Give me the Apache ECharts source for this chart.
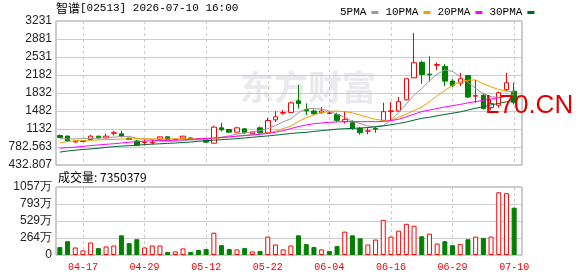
<!DOCTYPE html>
<html>
<head>
<meta charset="utf-8">
<title>智谱 02513 K线</title>
<script src="https://cdn.jsdelivr.net/npm/echarts@6/dist/echarts.min.js"></script>
<style>
html, body { margin: 0; padding: 0; background: #fff; }
#main { width: 578px; height: 276px; }
</style>
</head>
<body>
<div id="main"></div>
<script>
// trading days shown on the chart
const dates = [
  '04-14','04-15','04-16','04-17','04-20','04-21','04-22','04-23','04-24','04-27','04-28','04-29','04-30',
  '05-04','05-05','05-06','05-07','05-08','05-11','05-12','05-13','05-14','05-15','05-18','05-19','05-20','05-21','05-22',
  '05-26','05-27','05-28','05-29','06-01','06-02','06-03','06-04','06-05','06-08','06-09','06-10','06-11','06-12',
  '06-15','06-16','06-17','06-18','06-22','06-23','06-24','06-25','06-26','06-29','06-30',
  '07-02','07-03','07-06','07-07','07-08','07-09','07-10'
];
const labelIdx = [3, 11, 19, 27, 35, 43, 51, 59];

const kOpen = [1005,995,880,888,928,993,960,1050,1040,955, 900,870,862,935,980,925,955,958,945,922,
  857,1155,1122,1071,1136,1040,1155,1058,1310,1440, 1455,1680,1510,1482,1450,1435,1417,1275,1255,1145,
  1090,1145,1300,1475,1482,1700,2127,2428,2200,2370, 2345,2063,2024,2172,1770,1790,1549,1594,1902,1867];
const kClose = [966,900,895,895,993,960,993,1060,993,927, 820,876,872,980,930,932,993,950,938,877,
  1169,1116,1071,1155,1058,1075,1058,1298,1370,1452, 1640,1625,1485,1430,1482,1445,1300,1320,1145,1060,
  1095,1130,1469,1485,1663,2110,2420,2191,2185,2385, 2063,1979,2108,1754,1780,1530,1626,1838,2031,1650];
const kLow = [955,880,870,880,920,935,955,1005,966,920, 810,810,830,925,925,915,950,945,930,870,
  850,1083,1060,1065,1030,1030,1020,1050,1270,1410, 1450,1530,1400,1398,1430,1420,1270,1242,1115,1022,
  1028,1058,1290,1300,1470,1690,2127,2011,2056,2281, 1966,1947,1966,1735,1640,1510,1498,1549,1870,1610];
const kHigh = [1025,1005,905,900,1019,1000,1044,1097,1097,960, 920,927,927,990,985,940,1000,965,955,930,
  1194,1251,1130,1175,1150,1080,1180,1350,1480,1500, 1663,1990,1630,1514,1560,1465,1450,1482,1300,1171,
  1158,1190,1644,1657,1754,2120,3000,2461,2544,2428, 2397,2108,2223,2172,2090,1820,1709,1863,2223,2030];

const ma5 = [941,941,941,945,950,955,965,975,985,990, 950,940,925,905,895,893,905,920,922,925,
  950,975,1000,1035,1060,1075,1100,1140,1200,1270, 1330,1450,1525,1530,1520,1480,1420,1360,1280,1240,
  1190,1180,1200,1300,1450,1620,1790,1920,2070,2200, 2280,2250,2150,2040,1920,1820,1760,1745,1770,1810];
const ma10 = [863,890,905,908,912,920,928,930,935,940, 941,941,941,941,941,941,941,942,943,945,
  950,962,975,990,1005,1020,1035,1050,1090,1140, 1190,1280,1350,1410,1450,1475,1480,1470,1445,1405,
  1360,1320,1300,1300,1360,1420,1490,1560,1660,1780, 1880,1980,2050,2080,2085,2010,1950,1900,1870,1850];
const ma20 = [760,770,780,795,811,822,835,846,860,875, 887,896,902,906,910,916,922,930,940,950,
  958,968,980,994,1005,1018,1030,1045,1070,1100, 1140,1180,1210,1235,1250,1262,1270,1275,1275,1275,
  1275,1275,1280,1295,1320,1370,1420,1470,1500,1530, 1560,1585,1610,1640,1665,1690,1715,1740,1765,1790];
const ma30 = [683,705,720,735,745,757,775,790,800,808, 815,830,838,845,853,860,870,880,893,905,
  915,925,935,945,958,972,985,998,1012,1028, 1045,1058,1068,1085,1100,1115,1130,1138,1145,1152,
  1160,1175,1192,1215,1240,1268,1305,1340,1360,1390, 1415,1440,1465,1500,1535,1565,1600,1630,1660,1690];

const volume = [1230000,2140000,1170000,720000,1940000,1070000,1330000,1480000,3060000,1840000,
  2450000,1170000,1480000,1480000,460000,560000,1020000,460000,770000,920000,
  3470000,1530000,920000,870000,1070000,560000,610000,2860000,1630000,870000,
  1480000,3060000,1690000,1230000,870000,610000,1380000,3630000,3060000,2600000,
  1630000,2400000,5460000,2860000,3780000,4850000,4550000,2910000,3320000,1790000,
  2140000,1530000,1690000,2450000,2860000,2660000,2860000,9750000,9600000,7350379];
const volDir = [-1,-1,1,1,1,-1,1,1,-1,-1, -1,1,1,1,-1,1,1,-1,-1,-1,
  1,-1,-1,1,-1,1,-1,1,1,1, 1,-1,-1,-1,1,-1,-1,1,-1,-1,
  1,1,1,1,1,1,1,-1,1,1, -1,-1,1,-1,1,-1,1,1,1,-1];

const priceTicks = ['432.807','782.563','1132','1482','1832','2182','2531','2881','3231'];
const volTicks = ['0','264万','529万','793万','1057万'];

const priceMin = 432.807, priceStep = 349.756;
const priceMax = priceMin + priceStep * 8;
const volMax = 10570000, volStep = volMax / 4;

const UP = '#ff0000', DOWN = '#008000';

let chart = echarts.init(document.getElementById('main'));

let showAt = function (idx) { return labelIdx.indexOf(idx) >= 0; };

let kData = dates.map((d, i) => [kOpen[i], kClose[i], kLow[i], kHigh[i]]);
let volData = volume.map((v, i) => ({
  value: v,
  itemStyle: volDir[i] > 0
    ? { color: '#fff', borderColor: UP, borderWidth: 1 }
    : { color: DOWN, borderColor: DOWN, borderWidth: 1 }
}));

let frameY = function (gridIndex, min, max, step, labels) {
  return {
    gridIndex: gridIndex,
    type: 'value',
    min: min, max: max, interval: step,
    axisLine: { show: false },
    axisTick: { show: false },
    axisLabel: {
      margin: 4,
      color: '#222',
      fontSize: 12,
      fontFamily: 'Liberation Sans',
      formatter: function (v) { return labels[Math.round((v - min) / step)] || ''; }
    },
    splitLine: { show: true, lineStyle: { color: '#ccc', width: 1 } }
  };
};

let option = {
  animation: false,
  backgroundColor: '#fff',
  legend: {
    data: ['5PMA', '10PMA', '20PMA', '30PMA'],
    left: 335, top: 2,
    icon: 'rect', itemWidth: 7, itemHeight: 3, itemGap: 7,
    align: 'right',
    textStyle: { fontFamily: 'Liberation Mono', fontSize: 11, color: '#000' }
  },
  graphic: [
    {
      type: 'text', left: 56, top: 2,
      style: {
        text: '{a|智谱}{b|[02513] 2026-07-10 16:00}',
        rich: {
          a: { fontFamily: 'Noto Sans CJK SC', fontSize: 12, fill: '#000' },
          b: { fontFamily: 'Liberation Mono', fontSize: 11, fill: '#000' }
        }
      }
    },
    {
      type: 'text', left: 240, top: 70, z: -1, silent: true,
      style: { text: '东方财富', fontFamily: 'Noto Sans CJK SC', fontWeight: 'bold', fontSize: 34, fill: '#e9e9ee' }
    },
    {
      type: 'text', left: 58, top: 171,
      style: { text: '成交量: 7350379', fontFamily: 'Noto Sans CJK SC', fontSize: 12, fill: '#000' }
    },
    {
      type: 'text', left: 485, top: 93, z: 100,
      style: { text: 'L70.CN', fontFamily: 'Liberation Sans', fontSize: 26, fill: '#e00000' }
    }
  ],
  grid: [
    { left: 56, top: 21, width: 466, height: 144, show: true, borderColor: '#999', borderWidth: 1, backgroundColor: 'transparent' },
    { left: 56, top: 21, width: 462, height: 144 },
    { left: 56, top: 187, width: 466, height: 68, show: true, borderColor: '#999', borderWidth: 1, backgroundColor: 'transparent' },
    { left: 56, top: 187, width: 462, height: 68 }
  ],
  xAxis: [
    { gridIndex: 0, type: 'value', min: 0, max: 1, show: false },
    {
      gridIndex: 1, type: 'category', data: dates, boundaryGap: true,
      axisLine: { show: false }, axisTick: { show: false, alignWithLabel: true }, axisLabel: { show: false },
      splitLine: { show: true, interval: showAt, alignWithLabel: true, lineStyle: { color: '#ccc', type: [3, 3] } }
    },
    { gridIndex: 2, type: 'value', min: 0, max: 1, show: false },
    {
      gridIndex: 3, type: 'category', data: dates, boundaryGap: true,
      axisLine: { show: false }, axisTick: { show: false, alignWithLabel: true },
      axisLabel: { show: true, interval: showAt, margin: 7, color: UP, fontSize: 10, fontFamily: 'Liberation Mono' },
      splitLine: { show: true, interval: showAt, alignWithLabel: true, lineStyle: { color: '#ccc', type: [3, 3] } }
    }
  ],
  yAxis: [
    frameY(0, priceMin, priceMax, priceStep, priceTicks),
    { gridIndex: 1, type: 'value', min: priceMin, max: priceMax, show: false },
    frameY(2, 0, volMax, volStep, volTicks),
    { gridIndex: 3, type: 'value', min: 0, max: volMax, show: false }
  ],
  series: [
    {
      name: 'K', type: 'candlestick', xAxisIndex: 1, yAxisIndex: 1,
      barWidth: 5, data: kData,
      itemStyle: { color: '#fff', color0: DOWN, borderColor: UP, borderColor0: DOWN, borderWidth: 1 }
    },
    { name: '5PMA', type: 'line', xAxisIndex: 1, yAxisIndex: 1, data: ma5, symbol: 'none', lineStyle: { width: 1, color: '#999999' }, itemStyle: { color: '#999999' } },
    { name: '10PMA', type: 'line', xAxisIndex: 1, yAxisIndex: 1, data: ma10, symbol: 'none', lineStyle: { width: 1, color: '#f0a000' }, itemStyle: { color: '#f0a000' } },
    { name: '20PMA', type: 'line', xAxisIndex: 1, yAxisIndex: 1, data: ma20, symbol: 'none', lineStyle: { width: 1, color: '#ff00ff' }, itemStyle: { color: '#ff00ff' } },
    { name: '30PMA', type: 'line', xAxisIndex: 1, yAxisIndex: 1, data: ma30, symbol: 'none', lineStyle: { width: 1, color: '#006633' }, itemStyle: { color: '#006633' } },
    { name: 'VOL', type: 'bar', xAxisIndex: 3, yAxisIndex: 3, barWidth: 5, data: volData }
  ]
};
chart.setOption(option);
</script>
</body>
</html>
